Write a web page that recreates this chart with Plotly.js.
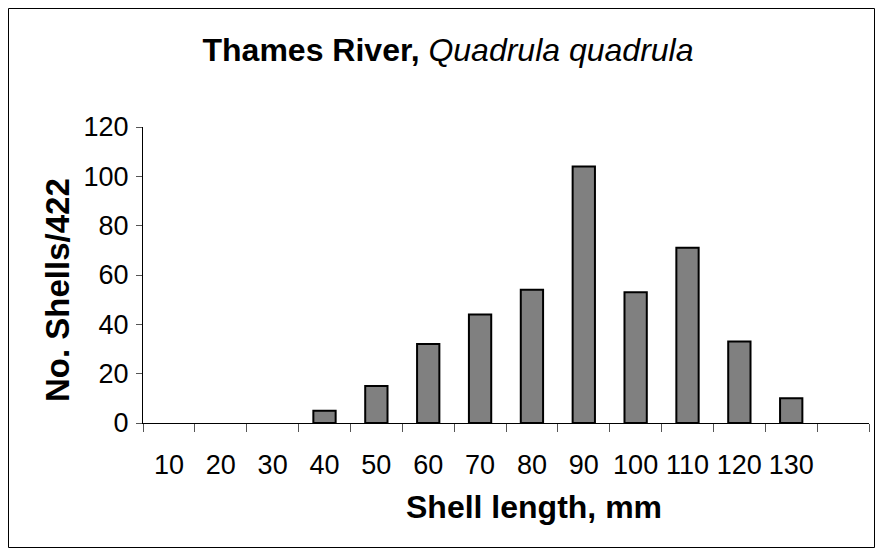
<!DOCTYPE html>
<html>
<head>
<meta charset="utf-8">
<script src="https://cdn.plot.ly/plotly-3.0.1.min.js"></script>
<style>
  html, body { margin: 0; padding: 0; background: #fff; }
  #chart { width: 877px; height: 550px; }
</style>
</head>
<body>
<div id="chart"></div>
<script>
// Data
const categories = ["10", "20", "30", "40", "50", "60", "70", "80", "90", "100", "110", "120", "130"];
const shellCounts = [0, 0, 0, 5, 15, 32, 44, 54, 104, 53, 71, 33, 10];
const axisCategories = categories.concat([" "]);   // trailing empty slot on the category axis
const yTickValues = [0, 20, 40, 60, 80, 100, 120];

const FONT = '"Liberation Sans", Arial, Helvetica, sans-serif';

const trace = {
  type: 'bar',
  x: categories,
  y: shellCounts,
  width: 0.43,
  marker: {
    color: '#808080',
    line: { color: '#000000', width: shellCounts.map(v => (v > 0 ? 2 : 0)) }
  },
  hoverinfo: 'x+y'
};

const L = 143, R = 8, T = 127, B = 127;
const W = 877, H = 550;
const pw = W - L - R, ph = H - T - B;
function px2x(p) { return (p - L) / pw; }
function py2y(p) { return (H - B - p) / ph; }

const layout = {
  width: W,
  height: H,
  margin: { l: L, r: R, t: T, b: B, pad: 0 },
  paper_bgcolor: '#ffffff',
  plot_bgcolor: '#ffffff',
  font: { family: FONT, color: '#000000', size: 26 },
  showlegend: false,
  title: {
    text: '<b>Thames River,</b> <i>Quadrula quadrula</i>',
    font: { family: FONT, size: 32, color: '#000000' },
    x: 448 / W,
    xanchor: 'center',
    xref: 'container',
    y: 1 - 50 / H,
    yanchor: 'middle',
    yref: 'container'
  },
  xaxis: {
    type: 'category',
    categoryorder: 'array',
    categoryarray: axisCategories,
    range: [-0.5, axisCategories.length - 0.5],
    showgrid: false,
    zeroline: false,
    showline: true,
    linecolor: '#000000',
    linewidth: 1,
    ticks: 'outside',
    tickson: 'boundaries',
    ticklen: 8,
    tickcolor: '#555555',
    tickwidth: 1,
    tickangle: 0,
    ticklabelstandoff: 18,
    tickfont: { family: FONT, size: 27, color: '#000000' },
    fixedrange: true
  },
  yaxis: {
    range: [0, 120],
    tickvals: yTickValues,
    ticktext: yTickValues.map(String),
    showgrid: false,
    zeroline: false,
    showline: true,
    linecolor: '#000000',
    linewidth: 1,
    ticks: 'outside',
    ticklen: 6,
    tickcolor: '#555555',
    tickwidth: 1,
    ticklabelstandoff: 2,
    tickfont: { family: FONT, size: 27, color: '#000000' },
    fixedrange: true
  },
  annotations: [
    {
      text: '<b>Shell length, mm</b>',
      xref: 'paper', yref: 'paper',
      x: px2x(534), y: py2y(507),
      xanchor: 'center', yanchor: 'middle',
      showarrow: false,
      font: { family: FONT, size: 32, color: '#000000' }
    },
    {
      text: '<b>No. Shells/422</b>',
      xref: 'paper', yref: 'paper',
      x: px2x(57), y: py2y(290),
      xanchor: 'center', yanchor: 'middle',
      textangle: -90,
      showarrow: false,
      font: { family: FONT, size: 33, color: '#000000' }
    }
  ],
  shapes: [
    {
      type: 'rect',
      xref: 'paper', yref: 'paper',
      x0: px2x(8.5), x1: px2x(874.5),
      y0: py2y(547.5), y1: py2y(8.5),
      line: { color: '#000000', width: 1 },
      fillcolor: 'rgba(0,0,0,0)',
      layer: 'below'
    }
  ]
};

Plotly.newPlot('chart', [trace], layout, { displayModeBar: false, staticPlot: true });
</script>
</body>
</html>
